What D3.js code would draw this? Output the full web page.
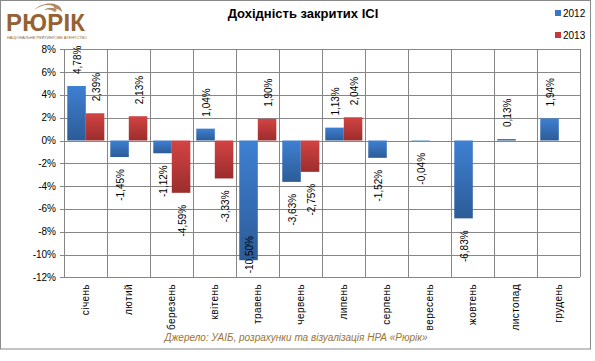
<!DOCTYPE html>
<html><head><meta charset="utf-8">
<script src="https://cdn.jsdelivr.net/npm/d3@7"></script>
<style>body{margin:0;background:#fff}svg{display:block}text{font-family:Arial,"Liberation Sans",sans-serif}</style>
</head><body>
<script>
const months = ["січень","лютий","березень","квітень","травень","червень","липень","серпень","вересень","жовтень","листопад","грудень"];
const seriesNames = ["2012","2013"];
const values2012 = [4.78,-1.45,-1.12,1.04,-10.50,-3.63,1.13,-1.52,-0.04,-6.83,0.13,1.94];
const values2013 = [2.39,2.13,-4.59,-3.33,1.90,-2.75,2.04,null,null,null,null,null];
const yTicks = [8,6,4,2,0,-2,-4,-6,-8,-10,-12];
const titleText = "Дохідність закритих ІСІ";
const sourceText = "Джерело: УАІБ, розрахунки та  візуалізація НРА «Рюрік»";

(function(){
const W=595,H=361;
const svg=d3.select("body").append("svg").attr("width",W).attr("height",H);
const defs=svg.append("defs");
function grad(id,c1,c2){const g=defs.append("linearGradient").attr("id",id).attr("x1",0).attr("y1",0).attr("x2",0).attr("y2",1);
 g.append("stop").attr("offset","0%").attr("stop-color",c1);g.append("stop").attr("offset","100%").attr("stop-color",c2);}
grad("gBlue","#3f80d2","#2c5c98");
grad("gRed","#d24443","#9c2d2d");
const colors={"2012":"url(#gBlue)","2013":"url(#gRed)"};
const legendColors={"2012":"#3a78c6","2013":"#c43a3a"};

svg.append("rect").attr("x",0.5).attr("y",0.5).attr("width",590).attr("height",348.5).attr("fill","#fff").attr("stroke","#8a8a8a");

const pL=64.3,pR=580.3,pT=49.3,pB=277.3;
const x=d3.scaleBand().domain(months).range([pL,pR]).paddingInner(0).paddingOuter(0);
const x1=d3.scaleBand().domain(seriesNames).range([0,x.bandwidth()]).paddingInner(0).paddingOuter(0.16);
const y=d3.scaleLinear().domain([-12,8]).range([pB,pT]);

const grid=svg.append("g").attr("stroke","#868686").attr("stroke-width",1).attr("shape-rendering","crispEdges");
yTicks.forEach(t=>{grid.append("line").attr("x1",pL-4).attr("x2",pR).attr("y1",Math.round(y(t))+0.5).attr("y2",Math.round(y(t))+0.5);});
months.forEach(m=>{const xx=Math.round(x(m))+0.5;grid.append("line").attr("x1",xx).attr("x2",xx).attr("y1",pT).attr("y2",pB);});
grid.append("line").attr("x1",Math.round(pR)+0.5).attr("x2",Math.round(pR)+0.5).attr("y1",pT).attr("y2",pB);

svg.append("g").selectAll("text").data(yTicks).join("text")
 .attr("x",56).attr("y",d=>y(d)).attr("dy","0.35em").attr("text-anchor","end")
 .attr("font-size",10).attr("fill","#000").text(d=>d+"%");

const data=[];
months.forEach((m,i)=>{
 [["2012",values2012[i]],["2013",values2013[i]]].forEach(([s,v])=>{if(v!==null)data.push({m,s,v});});
});
svg.append("g").selectAll("rect").data(data).join("rect")
 .attr("x",d=>x(d.m)+x1(d.s)).attr("width",x1.bandwidth())
 .attr("y",d=>y(Math.max(0,d.v))).attr("height",d=>Math.abs(y(d.v)-y(0)))
 .attr("fill",d=>colors[d.s]);

const fmt=v=>v.toFixed(2).replace(".",",")+"%";
const lg=svg.append("g");
data.forEach(d=>{
 const cx=x(d.m)+x1(d.s)+x1.bandwidth()/2;
 const t=lg.append("text").attr("font-size",10).attr("fill","#000").text(fmt(d.v)).attr("dy","0.35em");
 const len=t.node().getComputedTextLength();
 let yy;
 if(d.v>=0){yy=y(d.v)-12;t.attr("text-anchor","start");}
 else{yy=y(d.v)+12; if(yy+len>pB-4) yy=pB-4-len; t.attr("text-anchor","end");}
 t.attr("transform",`translate(${cx+1},${yy}) rotate(-90)`);
});

svg.append("g").selectAll("text").data(months).join("text")
 .attr("transform",m=>`translate(${x(m)+x.bandwidth()/2},284) rotate(-90)`)
 .attr("dy","0.35em").attr("text-anchor","end").attr("font-size",10).attr("letter-spacing","0.4px")
 .attr("fill","#000").text(m=>m);

svg.append("text").attr("x",303).attr("y",18).attr("text-anchor","middle").attr("font-size",13).attr("font-weight","bold").text(titleText);

seriesNames.forEach((s,i)=>{
 const ly=13+i*22;
 svg.append("rect").attr("x",555).attr("y",ly-3).attr("width",6).attr("height",6).attr("fill",legendColors[s]);
 svg.append("text").attr("x",563).attr("y",ly).attr("dy","0.35em").attr("font-size",10).text(s);
});

const logo=svg.append("g");
logo.append("path").attr("d","M34,10 C40,4 50,2 57,5 C60,6 62,9 62,12 C59,9 56,8 53,9 C56,7 52,5 48,5 C43,5 38,7 34,10 Z")
 .attr("fill","#b08a62");
logo.append("path").attr("d","M44,10 C48,7 53,7 57,10 L55,12 C51,9 47,9 44,10 Z").attr("fill","#b08a62");
logo.append("text").attr("x",6).attr("y",30.5).attr("font-family","'Liberation Serif','DejaVu Serif',serif")
 .attr("font-size",24).attr("font-weight","bold").attr("fill","#946234").attr("textLength",79).text("РЮРІК");
logo.append("text").attr("x",7).attr("y",38.5).attr("font-size",3.9).attr("fill","#946234").attr("textLength",80).text("НАЦІОНАЛЬНЕ РЕЙТИНГОВЕ АГЕНТСТВО");

svg.append("text").attr("x",296).attr("y",341).attr("text-anchor","middle").attr("font-size",10)
 .attr("font-style","italic").attr("fill","#9b7436").text(sourceText);
})();
</script>
</body></html>
